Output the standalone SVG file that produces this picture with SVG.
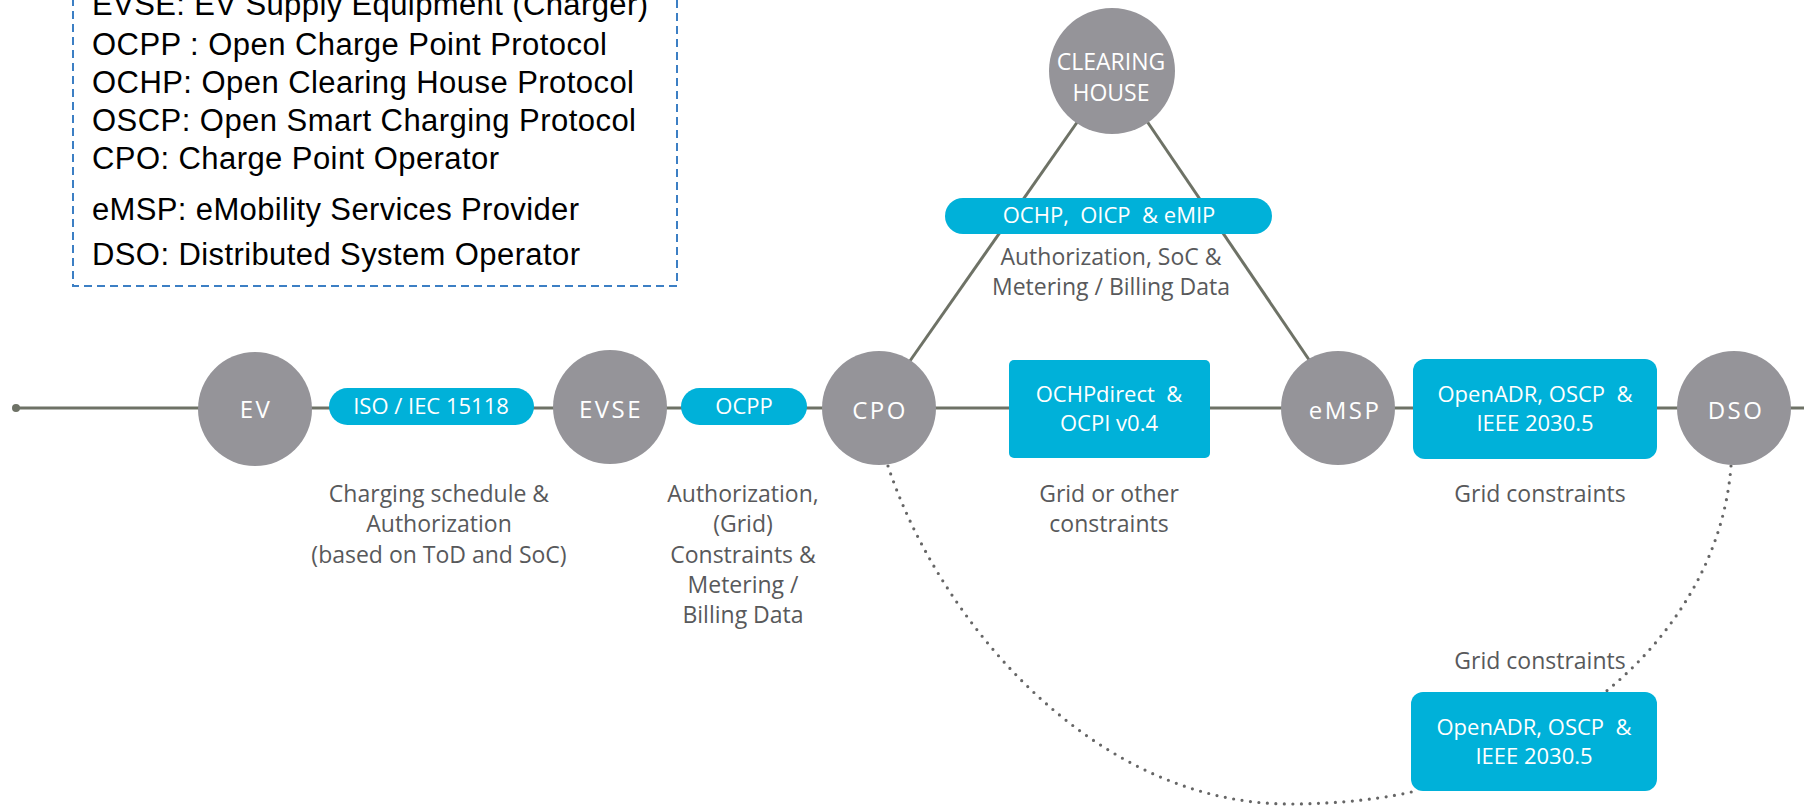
<svg xmlns="http://www.w3.org/2000/svg" width="1804" height="806" viewBox="0 0 1804 806">
  <style>
    .legend { font-family: "Liberation Sans", Arial, sans-serif; font-size: 31px; fill: #000; }
    .node circle { fill: #959499; }
    .node text { font-family: "Open Sans", "Noto Sans", sans-serif; font-size: 24px; fill: #fff; text-anchor: middle; letter-spacing: 2.5px; }
    .proto rect { fill: #00b1d9; }
    .proto text { font-family: "Open Sans", "Noto Sans", sans-serif; font-size: 22px; fill: #fff; text-anchor: middle; }
    .label { font-family: "Open Sans", "Noto Sans", sans-serif; font-size: 23px; fill: #58595b; text-anchor: middle; }
    .link { stroke: #6e7266; stroke-width: 3; fill: none; }
    .dotted { stroke: #666666; stroke-width: 3.2; fill: none; stroke-linecap: round; stroke-dasharray: 0 8.5; }
  </style>

  <!-- legend of abbreviations -->
  <g id="legend">
    <rect x="73" y="-20" width="604" height="306" fill="none" stroke="#3c7fc4" stroke-width="2" stroke-dasharray="8 5"/>
    <text class="legend" x="92" y="15" textLength="556">EVSE: EV Supply Equipment (Charger)</text>
    <text class="legend" x="92" y="55" textLength="515">OCPP : Open Charge Point Protocol</text>
    <text class="legend" x="92" y="93" textLength="542">OCHP: Open Clearing House Protocol</text>
    <text class="legend" x="92" y="131" textLength="544">OSCP: Open Smart Charging Protocol</text>
    <text class="legend" x="92" y="169" textLength="407">CPO: Charge Point Operator</text>
    <text class="legend" x="92" y="220" textLength="487">eMSP: eMobility  Services  Provider</text>
    <text class="legend" x="92" y="265" textLength="488">DSO: Distributed System Operator</text>
  </g>

  <!-- connectors -->
  <g id="connectors">
    <line class="link" x1="16" y1="408" x2="1804" y2="408"/>
    <circle cx="16" cy="408" r="4" fill="#6e7266"/>
    <line class="link" x1="1085" y1="111" x2="905" y2="368"/>
    <line class="link" x1="1140" y1="111" x2="1316" y2="370"/>
    <path class="dotted" d="M 888 466 C 937.5 616, 1090 804, 1290 804 C 1340 804, 1390 798, 1419 790"/>
    <path class="dotted" d="M 1731 466 C 1724 560, 1670 640, 1604 693"/>
  </g>

  <!-- protocol badges -->
  <g id="p-iso15118" class="proto">
    <rect x="329" y="388" width="205" height="37" rx="18.5"/>
    <text x="431" y="414">ISO / IEC 15118</text>
  </g>
  <g id="p-ocpp" class="proto">
    <rect x="681" y="388" width="126" height="37" rx="18.5"/>
    <text x="744" y="414">OCPP</text>
  </g>
  <g id="p-ochp" class="proto">
    <rect x="945" y="198" width="327" height="36" rx="18"/>
    <text x="1109" y="223" xml:space="preserve">OCHP,  OICP  &amp; eMIP</text>
  </g>
  <g id="p-ochpdirect" class="proto">
    <rect x="1009" y="360" width="201" height="98" rx="5"/>
    <text x="1109" y="402" xml:space="preserve">OCHPdirect  &amp;</text>
    <text x="1109" y="431">OCPI v0.4</text>
  </g>
  <g id="p-openadr-emsp" class="proto">
    <rect x="1413" y="359" width="244" height="100" rx="12"/>
    <text x="1535" y="402" xml:space="preserve">OpenADR, OSCP  &amp;</text>
    <text x="1535" y="431">IEEE 2030.5</text>
  </g>
  <g id="p-openadr-cpo" class="proto">
    <rect x="1411" y="692" width="246" height="99" rx="12"/>
    <text x="1534" y="735" xml:space="preserve">OpenADR, OSCP  &amp;</text>
    <text x="1534" y="764">IEEE 2030.5</text>
  </g>

  <!-- actors -->
  <g id="n-ev" class="node">
    <circle cx="255" cy="409" r="57"/>
    <text x="256" y="418">EV</text>
  </g>
  <g id="n-evse" class="node">
    <circle cx="610" cy="407" r="57"/>
    <text x="611" y="418">EVSE</text>
  </g>
  <g id="n-cpo" class="node">
    <circle cx="879" cy="408" r="57"/>
    <text x="880" y="419">CPO</text>
  </g>
  <g id="n-emsp" class="node">
    <circle cx="1338" cy="408" r="57"/>
    <text x="1345" y="419">eMSP</text>
  </g>
  <g id="n-dso" class="node">
    <circle cx="1734" cy="408" r="57"/>
    <text x="1736" y="419">DSO</text>
  </g>
  <g id="n-clearing" class="node">
    <circle cx="1112" cy="71" r="63"/>
    <text x="1111" y="70" style="letter-spacing:0;font-size:23px">CLEARING</text>
    <text x="1111" y="101" style="letter-spacing:0;font-size:23px">HOUSE</text>
  </g>

  <!-- data exchanged on each link -->
  <g id="labels">
    <text class="label" x="1111" y="265">Authorization, SoC &amp;</text>
    <text class="label" x="1111" y="295">Metering / Billing Data</text>
    <text class="label" x="439" y="502">Charging schedule &amp;</text>
    <text class="label" x="439" y="532">Authorization</text>
    <text class="label" x="439" y="563">(based on ToD and SoC)</text>
    <text class="label" x="743" y="502">Authorization,</text>
    <text class="label" x="743" y="532">(Grid)</text>
    <text class="label" x="743" y="563">Constraints &amp;</text>
    <text class="label" x="743" y="593">Metering /</text>
    <text class="label" x="743" y="623">Billing Data</text>
    <text class="label" x="1109" y="502">Grid or other</text>
    <text class="label" x="1109" y="532">constraints</text>
    <text class="label" x="1540" y="502">Grid constraints</text>
    <text class="label" x="1540" y="669">Grid constraints</text>
  </g>
</svg>
